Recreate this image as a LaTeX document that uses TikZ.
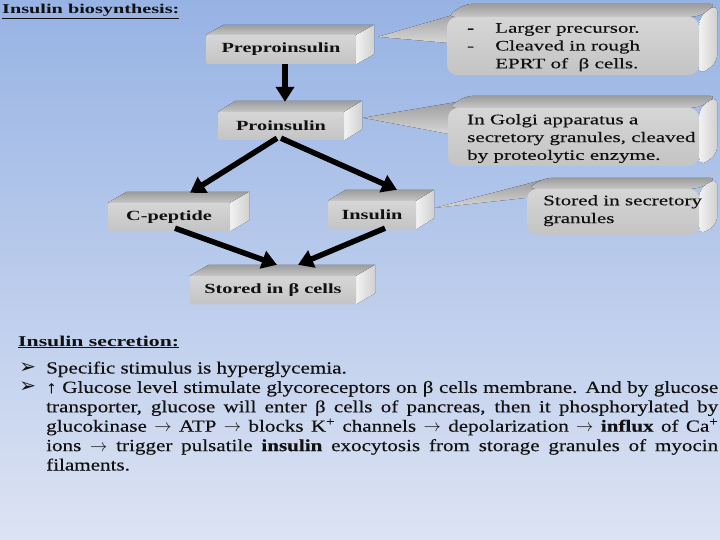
\documentclass[tikz,border=0pt]{standalone}
\usepackage{fontspec}
\setmainfont{Liberation Serif}
\newfontfamily\wideserif{Liberation Serif}[FakeStretch=1.45]
\newfontfamily\calloutserif{Liberation Serif}[FakeStretch=1.45,FakeBold=0.35]
\newfontfamily\titleserif{Liberation Serif}[FakeStretch=1.5]
\newfontfamily\paraserif{Liberation Serif}[FakeStretch=1.24,FakeBold=0.35]
\newfontfamily\dingfont{DejaVu Sans}
\usetikzlibrary{arrows.meta,calc}
\pgfdeclarelayer{bg}
\pgfdeclarelayer{back}
\pgfsetlayers{bg,back,main}

\definecolor{bgtop}{HTML}{97B3E4}
\definecolor{bgbot}{HTML}{DCE3F3}
\definecolor{facetop}{HTML}{D6D6D6}
\definecolor{facebot}{HTML}{C4C4C4}
\definecolor{bevtop}{HTML}{9C9C9C}
\definecolor{bevbot}{HTML}{C6C6C6}
\definecolor{sidel}{HTML}{F2F2F2}
\definecolor{sider}{HTML}{D0D0D0}
\definecolor{inktext}{HTML}{111111}

\tikzset{
  box3d/.style={rectangle, rounded corners=1.5pt, inner sep=0pt,
    top color=facetop, bottom color=facebot, text=inktext,
    font=\wideserif\bfseries\fontsize{14}{16}\selectfont},
  callout/.style={rectangle, rounded corners=10pt, inner sep=0pt,
    top color=facetop, bottom color=facebot},
  callouttext/.style={inner sep=0pt, anchor=north west, align=left, text=inktext,
    font=\calloutserif\fontsize{14.5}{17.8}\selectfont},
  topface/.style={top color=bevtop, bottom color=bevbot},
  sideface/.style={left color=sidel, right color=sider},
  wedgeface/.style={top color=bevtop, bottom color=facetop},
  arr/.style={line width=5.5pt, -{Triangle[length=15pt,width=18pt]}, black},
  heading/.style={inner sep=0pt, anchor=base west, text=inktext},
  paraline/.style={inner sep=0pt, anchor=base west, text=inktext,
    font=\paraserif\fontsize{17}{19.4}\selectfont},
}

\newcommand\bevelfaces[4][]{%
  \fill[topface,#1] (#2.north west) -- ++(#3,-#4) -- ($(#2.north east)+(#3,-#4)$) -- (#2.north east) -- cycle;
  \fill[sideface,#1] (#2.north east) -- ++(#3,-#4) -- ($(#2.south east)+(#3,-#4)$) -- (#2.south east) -- cycle;
}
\newcommand\blt{\llap{\dingfont\fontsize{20}{20}\selectfont ➢\hspace{10pt}}}
\newcommand\ra{$\rightarrow$}

\begin{document}
\begin{tikzpicture}[x=1pt,y=-1pt]
\useasboundingbox (0,0) rectangle (720,540);
\begin{pgfonlayer}{bg}
\fill[top color=bgtop, bottom color=bgbot] (0,0) rectangle (720,540);
\end{pgfonlayer}

% headings
\node[heading, font=\titleserif\bfseries\fontsize{13.5}{15}\selectfont] (title) at (2,14) {\underline{Insulin biosynthesis:}};

% flow boxes (front faces)
\node[box3d, minimum width=150pt, minimum height=29pt] (pre) at (281,49.5) {Preproinsulin};
\node[box3d, minimum width=126pt, minimum height=28pt] (pro) at (281,126) {Proinsulin};
\node[box3d, minimum width=122pt, minimum height=28pt] (cpep) at (169,217) {C-peptide};
\node[box3d, minimum width=88pt, minimum height=28pt] (ins) at (372,215) {Insulin};
\node[box3d, minimum width=166pt, minimum height=28pt] (sto) at (273,290) {Stored in β cells};

% callouts (front faces)
\node[callout, minimum width=252pt, minimum height=58pt] (c1) at (573,46) {};
\node[callout, minimum width=251pt, minimum height=58pt] (c2) at (573.5,137) {};
\node[callout, minimum width=172pt, minimum height=46pt] (c3) at (613,212) {};

\begin{pgfonlayer}{back}
  % callout pointers
  \coordinate (tip1) at ($(pre.north east)+(22,2)$);
  \coordinate (tip2) at ($(pro.north east)+(19,6)$);
  \coordinate (tip3) at ($(ins.north east)+(19,7)$);
  \fill[wedgeface] (tip1) -- ($(c1.north west)+(24,-7)$) -- ($(c1.north west)+(6,16)$) -- ($(c1.north west)+(0,26)$) -- cycle;
  \fill[wedgeface] (tip2) -- ($(c2.north west)+(16,-7)$) -- ($(c2.north west)+(6,16)$) -- ($(c2.north west)+(0,26)$) -- cycle;
  \fill[wedgeface] (tip3) -- ($(c3.north west)+(16,-9)$) -- ($(c3.north west)+(4,4)$) -- ($(c3.north west)+(0,9)$) -- cycle;
  % 3-D faces
  \bevelfaces{pre}{18}{10}
  \bevelfaces{pro}{18}{11}
  \bevelfaces{cpep}{19}{11}
  \bevelfaces{ins}{18}{11}
  \bevelfaces{sto}{19}{11}
  \bevelfaces[rounded corners=8pt]{c1}{18}{13}
  \bevelfaces[rounded corners=8pt]{c2}{18}{12}
  \bevelfaces[rounded corners=8pt]{c3}{18}{11}
\end{pgfonlayer}

% callout texts
\node[callouttext] (t1) at (467,23) {\makebox[28pt][l]{-}Larger precursor.\\\makebox[28pt][l]{-}Cleaved in rough\\\hspace*{28pt}EPRT of \ β cells.};
\node[callouttext] (t2) at (467,114) {In Golgi apparatus a\\secretory granules, cleaved\\by proteolytic enzyme.};
\node[callouttext] (t3) at (543,195) {Stored in secretory\\granules};

% arrows
\draw[arr] ($(pre.south)+(4,0)$) -- ($(pro.north)+(4,-10)$);
\draw[arr] ($(pro.south)+(-4,-2)$) -- ($(cpep.north)+(21,-10)$);
\draw[arr] ($(pro.south)+(0,-2)$) -- ($(ins.north)+(25,-11)$);
\draw[arr] ($(cpep.south)+(6,-3)$) -- ($(sto.north)+(4,-11)$);
\draw[arr] ($(ins.south)+(13,-1)$) -- ($(sto.north)+(25,-11)$);

% secretion text
\node[heading, font=\wideserif\bfseries\fontsize{15}{17}\selectfont] (sec) at (18,346) {\underline{Insulin secretion:}};
\node[paraline] (l1) at (46,373.5) {\blt Specific stimulus is hyperglycemia.};
\node[paraline] (l2) at (46,392.9) {\hbox to 672pt{\blt ↑ Glucose level stimulate glycoreceptors on β cells membrane. And by glucose}};
\node[paraline] (l3) at (46,412.3) {\hbox to 672pt{transporter, glucose will enter β cells of pancreas, then it phosphorylated by}};
\node[paraline] (l4) at (46,431.7) {\hbox to 672pt{glucokinase \ra{} ATP \ra{} blocks K\textsuperscript{+} channels \ra{} depolarization \ra{} \textbf{influx} of Ca\textsuperscript{+}}};
\node[paraline] (l5) at (46,451.1) {\hbox to 672pt{ions \ra{} trigger pulsatile \textbf{insulin} exocytosis from storage granules of myocin}};
\node[paraline] (l6) at (46,470.5) {filaments.};
\end{tikzpicture}
\end{document}
